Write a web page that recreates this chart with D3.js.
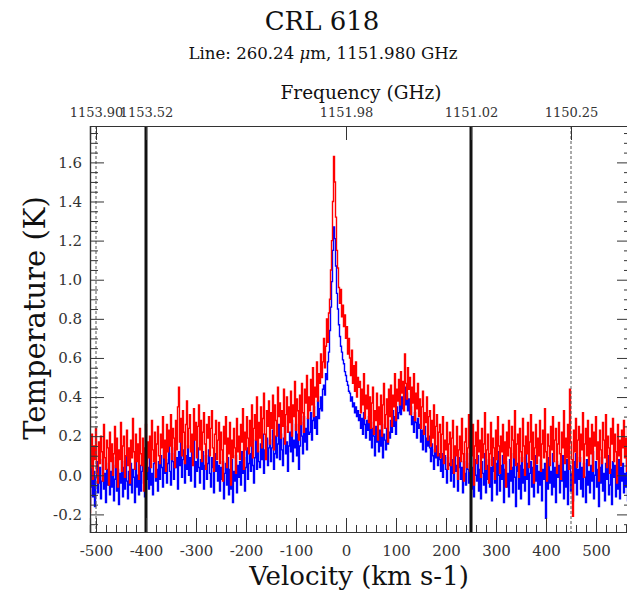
<!DOCTYPE html>
<html>
<head>
<meta charset="utf-8">
<script src="https://cdn.jsdelivr.net/npm/d3@7"></script>
<style>
  html, body { margin: 0; padding: 0; background: #fff; }
  svg { display: block; font-family: "DejaVu Serif", serif; }
</style>
</head>
<body>
<svg id="chart" width="627" height="590"></svg>
<script>
// Spectrum channels: velocity of channel i is velocityStart + i * velocityStep (km/s)
const velocityStart = -512;
const velocityStep = 2;

// Red spectrum, antenna temperature (K); one row = 10 channels = 20 km/s
const redSpectrum = [
  -0.19, 0.04, 0.21, -0.02, 0.15, 0.08, 0.24, 0.01, -0.04, 0.17,
  0.06, 0.20, 0.12, -0.03, 0.26, 0.09, 0.03, 0.18, 0.14, -0.05,
  0.22, 0.07, 0.16, 0.00, 0.11, 0.25, 0.04, 0.19, -0.06, 0.13,
  0.08, 0.27, 0.02, 0.15, 0.20, -0.01, 0.10, 0.23, 0.05, 0.14,
  -0.04, 0.18, 0.09, 0.29, 0.12, 0.03, 0.21, 0.07, 0.16, -0.02,
  0.24, 0.11, 0.05, 0.19, -0.08, 0.14, 0.26, 0.02, 0.17, 0.09,
  0.20, 0.04, 0.28, 0.13, 0.07, 0.22, -0.01, 0.16, 0.25, 0.10,
  0.06, 0.21, 0.14, 0.30, 0.09, 0.18, 0.02, 0.26, 0.12, 0.23,
  0.15, 0.31, 0.08, 0.24, 0.19, 0.04, 0.28, 0.13, 0.35, 0.45,
  0.17, 0.29, 0.10, 0.33, 0.22, 0.06, 0.26, 0.38, 0.14, 0.24,
  0.31, 0.12, 0.21, 0.05, 0.34, 0.18, 0.27, 0.09, 0.25, 0.36,
  0.13, 0.28, 0.07, 0.22, 0.32, 0.16, 0.03, 0.26, 0.19, 0.30,
  0.10, 0.24, 0.33, 0.14, 0.02, 0.21, 0.28, 0.08, 0.18, 0.27,
  0.06, 0.22, 0.13, -0.03, 0.25, 0.16, 0.30, 0.04, 0.19, 0.11,
  0.27, -0.05, 0.18, 0.09, 0.24, 0.14, 0.01, 0.29, 0.12, 0.20,
  0.08, 0.26, 0.17, 0.34, 0.03, 0.22, 0.13, 0.30, 0.19, 0.11,
  0.28, 0.15, 0.36, 0.09, 0.24, 0.31, 0.18, 0.40, 0.12, 0.27,
  0.19, 0.35, 0.14, 0.29, 0.42, 0.21, 0.08, 0.33, 0.25, 0.38,
  0.16, 0.32, 0.24, 0.41, 0.13, 0.36, 0.28, 0.20, 0.45, 0.30,
  0.37, 0.19, 0.33, 0.25, 0.44, 0.16, 0.31, 0.40, 0.22, 0.35,
  0.27, 0.43, 0.20, 0.36, 0.30, 0.48, 0.23, 0.39, 0.33, 0.18,
  0.41, 0.26, 0.47, 0.32, 0.22, 0.44, 0.37, 0.51, 0.29, 0.40,
  0.33, 0.49, 0.36, 0.55, 0.30, 0.45, 0.40, 0.58, 0.38, 0.52,
  0.47, 0.62, 0.50, 0.58, 0.70, 0.55, 0.66, 0.80, 0.68, 0.83,
  0.90, 1.05, 1.20, 1.40, 1.63, 1.50, 1.32, 1.15, 1.06, 0.96,
  0.88, 0.95, 0.81, 0.87, 0.76, 0.82, 0.70, 0.76, 0.62, 0.70,
  0.60, 0.51, 0.64, 0.47, 0.56, 0.43, 0.58, 0.40, 0.50, 0.45,
  0.48, 0.32, 0.44, 0.36, 0.52, 0.29, 0.41, 0.34, 0.46, 0.27,
  0.40, 0.24, 0.37, 0.45, 0.21, 0.33, 0.28, 0.42, 0.18, 0.35,
  0.26, 0.41, 0.20, 0.36, 0.47, 0.24, 0.31, 0.39, 0.17, 0.44,
  0.30, 0.46, 0.25, 0.41, 0.35, 0.52, 0.28, 0.44, 0.38, 0.49,
  0.36, 0.53, 0.42, 0.48, 0.33, 0.62, 0.47, 0.39, 0.55, 0.44,
  0.50, 0.31, 0.45, 0.37, 0.52, 0.28, 0.42, 0.34, 0.47, 0.30,
  0.39, 0.24, 0.35, 0.43, 0.21, 0.32, 0.27, 0.40, 0.18, 0.30,
  0.33, 0.15, 0.28, 0.19, 0.36, 0.12, 0.25, 0.31, 0.10, 0.22,
  0.26, 0.09, 0.21, 0.30, 0.06, 0.18, 0.13, 0.27, 0.03, 0.16,
  0.22, 0.05, 0.19, 0.28, 0.01, 0.15, 0.10, 0.25, -0.02, 0.13,
  0.20, 0.07, 0.29, 0.11, -0.03, 0.17, 0.24, 0.04, 0.14, 0.31,
  0.02, 0.19, 0.10, 0.26, -0.05, 0.15, 0.22, 0.06, 0.28, 0.12,
  0.18, -0.01, 0.24, 0.09, 0.16, 0.32, 0.03, 0.13, 0.21, -0.04,
  0.11, 0.27, 0.05, 0.19, 0.14, -0.02, 0.23, 0.08, 0.30, 0.15,
  0.01, 0.20, 0.12, 0.26, 0.06, 0.17, -0.06, 0.22, 0.10, 0.28,
  0.14, 0.03, 0.25, 0.18, 0.09, 0.33, 0.05, 0.16, 0.21, -0.01,
  0.24, 0.12, 0.07, 0.29, 0.15, 0.00, 0.20, 0.11, 0.27, 0.04,
  0.17, 0.31, 0.08, 0.22, -0.04, 0.14, 0.26, 0.06, 0.19, 0.10,
  0.28, 0.02, 0.16, 0.23, 0.09, 0.34, 0.12, -0.03, 0.21, 0.15,
  0.05, 0.25, 0.13, 0.30, 0.07, 0.18, 0.24, 0.01, 0.16, 0.27,
  0.11, -0.02, 0.22, 0.14, 0.33, 0.06, 0.19, 0.09, 0.26, 0.03,
  0.44, 0.17, 0.08, -0.21, 0.23, 0.12, 0.29, 0.04, 0.18, 0.25,
  0.07, 0.21, 0.13, 0.32, -0.01, 0.16, 0.24, 0.10, 0.28, 0.05,
  0.19, 0.11, 0.26, 0.02, 0.22, 0.15, 0.30, 0.08, 0.17, -0.03,
  0.23, 0.13, 0.06, 0.27, 0.18, 0.09, 0.31, 0.04, 0.20, 0.14,
  0.01, 0.24, 0.16, 0.29, 0.07, 0.21, 0.12, -0.04, 0.26, 0.10,
  0.18, 0.05, 0.23, 0.14, 0.28, 0.09, 0.19, 0.02, 0.25, 0.13,
  0.17
];

// Blue spectrum, antenna temperature (K); same channel grid
const blueSpectrum = [
  -0.15, -0.06, 0.05, -0.11, 0.02, -0.16, -0.01, 0.07, -0.09, -0.04,
  0.04, -0.12, -0.03, 0.08, -0.07, 0.01, -0.14, 0.03, -0.05, 0.06,
  -0.10, 0.02, -0.06, 0.09, -0.13, -0.02, 0.05, -0.08, 0.03, -0.15,
  0.01, -0.04, 0.07, -0.11, 0.04, -0.07, 0.10, -0.03, -0.12, 0.02,
  -0.05, 0.06, -0.09, 0.03, -0.01, -0.14, 0.08, -0.06, 0.00, -0.10,
  0.05, -0.08, 0.02, 0.10, -0.04, -0.11, 0.07, -0.02, 0.04, -0.07,
  0.09, -0.05, 0.01, -0.10, 0.06, 0.12, -0.03, 0.03, -0.08, 0.07,
  -0.02, 0.10, 0.04, -0.06, 0.13, 0.01, 0.08, -0.04, 0.06, 0.15,
  0.02, -0.05, 0.11, 0.07, -0.02, 0.14, 0.04, 0.09, -0.07, 0.12,
  0.05, 0.17, -0.01, 0.08, 0.13, -0.04, 0.10, 0.03, 0.15, 0.00,
  0.09, -0.03, 0.12, 0.06, 0.18, -0.06, 0.07, 0.02, 0.14, 0.04,
  -0.04, 0.08, 0.03, 0.12, -0.07, 0.05, 0.10, -0.02, 0.06, 0.13,
  0.01, -0.06, 0.09, 0.04, -0.09, 0.11, 0.02, 0.07, -0.03, 0.05,
  -0.08, 0.04, -0.02, 0.07, -0.12, 0.01, 0.06, -0.05, 0.09, -0.10,
  0.03, -0.07, 0.08, -0.14, 0.02, -0.03, 0.10, -0.09, 0.05, -0.01,
  0.07, -0.05, 0.12, 0.01, 0.09, -0.08, 0.04, 0.14, -0.02, 0.06,
  0.11, 0.02, 0.15, 0.05, -0.04, 0.09, 0.18, 0.03, 0.12, 0.07,
  0.04, 0.16, 0.08, 0.21, 0.01, 0.13, 0.10, 0.19, 0.05, 0.14,
  0.18, 0.07, 0.14, 0.23, 0.03, 0.11, 0.20, 0.09, 0.16, 0.26,
  0.08, 0.21, 0.13, 0.05, 0.19, 0.25, 0.11, 0.17, 0.02, 0.15,
  0.22, 0.12, 0.28, 0.07, 0.18, 0.14, 0.26, 0.10, 0.21, 0.03,
  0.15, 0.27, 0.20, 0.11, 0.30, 0.17, 0.24, 0.13, 0.29, 0.21,
  0.22, 0.32, 0.18, 0.28, 0.35, 0.24, 0.30, 0.21, 0.38, 0.29,
  0.34, 0.40, 0.33, 0.44, 0.46, 0.41, 0.52, 0.49, 0.58, 0.63,
  0.74, 0.86, 0.99, 1.15, 1.27, 1.21, 1.07, 0.93, 0.85, 0.77,
  0.71, 0.66, 0.63, 0.59, 0.57, 0.53, 0.51, 0.48, 0.46, 0.43,
  0.42, 0.38, 0.40, 0.35, 0.37, 0.32, 0.35, 0.30, 0.33, 0.28,
  0.31, 0.24, 0.29, 0.21, 0.32, 0.26, 0.19, 0.28, 0.23, 0.30,
  0.18, 0.27, 0.14, 0.24, 0.20, 0.10, 0.25, 0.17, 0.22, 0.12,
  0.23, 0.15, 0.26, 0.09, 0.21, 0.18, 0.13, 0.24, 0.16, 0.22,
  0.19, 0.28, 0.22, 0.33, 0.25, 0.30, 0.21, 0.35, 0.29, 0.32,
  0.38, 0.31, 0.40, 0.34, 0.37, 0.45, 0.36, 0.42, 0.33, 0.39,
  0.31, 0.35, 0.26, 0.30, 0.22, 0.32, 0.27, 0.19, 0.29, 0.24,
  0.26, 0.17, 0.23, 0.13, 0.21, 0.25, 0.12, 0.19, 0.15, 0.20,
  0.14, 0.07, 0.16, 0.10, 0.03, 0.13, 0.09, 0.15, 0.05, 0.11,
  0.08, 0.02, 0.11, -0.01, 0.07, 0.10, 0.03, -0.04, 0.09, 0.05,
  0.06, -0.03, 0.08, 0.01, -0.06, 0.10, 0.02, 0.05, -0.08, 0.04,
  0.09, -0.02, 0.04, -0.09, 0.07, 0.01, -0.05, 0.11, 0.03, -0.04,
  0.06, 0.25, -0.07, 0.04, -0.11, 0.08, 0.00, -0.03, 0.10, -0.08,
  0.03, -0.12, 0.07, 0.01, -0.05, 0.11, -0.09, 0.05, -0.02, 0.08,
  -0.06, 0.04, -0.13, 0.09, 0.02, -0.04, 0.06, -0.10, 0.12, 0.00,
  -0.08, 0.05, -0.02, 0.10, -0.14, 0.03, 0.07, -0.06, 0.01, -0.11,
  0.08, -0.03, 0.04, -0.09, 0.11, -0.01, -0.16, 0.06, 0.02, -0.07,
  0.05, -0.12, 0.09, -0.04, 0.03, -0.08, 0.13, -0.02, 0.06, -0.15,
  0.01, 0.07, -0.06, 0.04, -0.11, 0.10, -0.03, 0.05, -0.09, 0.02,
  -0.05, 0.08, -0.13, 0.03, -0.02, 0.06, -0.22, 0.01, -0.07, 0.09,
  -0.04, 0.02, -0.10, 0.11, -0.06, 0.04, -0.14, 0.07, -0.01, 0.05,
  -0.09, 0.06, -0.03, 0.10, -0.12, 0.02, -0.06, 0.08, -0.15, 0.03,
  0.05, -0.08, 0.01, -0.13, 0.07, -0.04, 0.11, -0.10, 0.03, -0.02,
  0.09, -0.07, 0.04, -0.11, 0.06, -0.01, -0.14, 0.08, -0.05, 0.02,
  -0.09, 0.05, -0.03, 0.12, -0.12, 0.00, 0.07, -0.06, 0.03, -0.16,
  0.04, -0.04, 0.09, -0.08, 0.01, -0.13, 0.06, -0.02, 0.10, -0.10,
  -0.05, 0.03, -0.15, 0.07, -0.01, 0.05, -0.11, 0.02, -0.07, 0.08,
  -0.12, 0.04, -0.03, 0.06, -0.09, 0.01, -0.06, 0.09, -0.13, -0.02,
  0.03
];

// Axis ticks
const velocityTicks = [-500, -400, -300, -200, -100, 0, 100, 200, 300, 400, 500];
const temperatureTicks = [-0.2, 0.0, 0.2, 0.4, 0.6, 0.8, 1.0, 1.2, 1.4, 1.6];
// Top axis: frequency labels at the velocities they correspond to
const frequencyTickVelocities = [-500, -400, 0, 250, 450];
const frequencyTickLabels = ["1153.90", "1153.52", "1151.98", "1151.02", "1150.25"];
// Vertical markers (km/s)
const solidMarkers = [-400, 250];
const dashedMarkers = [-500, 450];

const titleText = "CRL 618";
const xLabel = "Velocity (km s-1)";
const yLabel = "Temperature (K)";
const topLabel = "Frequency (GHz)";

const svg = d3.select("#chart");
const plot = { left: 90, right: 631, top: 126, bottom: 532 };

const x = d3.scaleLinear().domain([-512, 570]).range([plot.left, plot.right]);
const y = d3.scaleLinear().domain([-0.29, 1.786]).range([plot.bottom, plot.top]);

const axisColor = "#333";

svg.append("defs").append("clipPath").attr("id", "plot-clip")
  .append("rect")
  .attr("x", plot.left).attr("y", plot.top)
  .attr("width", plot.right - plot.left).attr("height", plot.bottom - plot.top);

// Spectra, drawn as channel steps
const toPoints = arr => arr.map((t, i) => [velocityStart + i * velocityStep, t]);
const line = d3.line().x(d => x(d[0])).y(d => y(d[1])).curve(d3.curveStep);

const spectra = svg.append("g").attr("clip-path", "url(#plot-clip)");
spectra.append("path")
  .attr("d", line(toPoints(blueSpectrum)))
  .attr("fill", "none").attr("stroke", "#0000ff").attr("stroke-width", 1.4);
spectra.append("path")
  .attr("d", line(toPoints(redSpectrum)))
  .attr("fill", "none").attr("stroke", "#ff0000").attr("stroke-width", 1.4);

// Vertical markers
const markers = svg.append("g").attr("clip-path", "url(#plot-clip)");
markers.selectAll("line.solid").data(solidMarkers).join("line")
  .attr("class", "solid")
  .attr("x1", d => x(d)).attr("x2", d => x(d))
  .attr("y1", plot.top).attr("y2", plot.bottom)
  .attr("stroke", "#111").attr("stroke-width", 3);
markers.selectAll("line.dashed").data(dashedMarkers).join("line")
  .attr("class", "dashed")
  .attr("x1", d => x(d)).attr("x2", d => x(d))
  .attr("y1", plot.top).attr("y2", plot.bottom)
  .attr("stroke", "#555").attr("stroke-width", 1).attr("stroke-dasharray", "3,2");

// Minor ticks: every 20 km/s and every 0.05 K
const minorV = d3.range(-26, 29).map(k => k * 20).filter(v => v % 100 !== 0 && v >= -512 && v <= 570);
const minorT = d3.range(-5, 36).filter(k => k % 4 !== 0).map(k => k * 0.05);

function styleAxis(g) {
  g.select(".domain").attr("stroke", axisColor).attr("stroke-width", 1.2);
  g.selectAll(".tick line").attr("stroke", axisColor).attr("stroke-width", 1);
  g.selectAll(".tick text").attr("fill", "#333").attr("font-family", "DejaVu Serif, serif");
}

// Bottom axis
svg.append("g").attr("transform", `translate(0,${plot.bottom})`)
  .call(d3.axisBottom(x).tickValues(minorV).tickSize(-7).tickFormat(""))
  .call(styleAxis);
svg.append("g").attr("transform", `translate(0,${plot.bottom})`)
  .call(d3.axisBottom(x).tickValues(velocityTicks).tickSize(-14).tickPadding(13).tickFormat(d => String(d)))
  .call(styleAxis)
  .call(g => g.selectAll(".tick text").attr("font-size", 15));

// Left axis
svg.append("g").attr("transform", `translate(${plot.left},0)`)
  .call(d3.axisLeft(y).tickValues(minorT).tickSize(-8).tickFormat(""))
  .call(styleAxis);
svg.append("g").attr("transform", `translate(${plot.left},0)`)
  .call(d3.axisLeft(y).tickValues(temperatureTicks).tickSize(-14).tickPadding(8).tickFormat(d => d.toFixed(1)))
  .call(styleAxis)
  .call(g => g.selectAll(".tick text").attr("font-size", 15));

// Right axis (ticks only)
svg.append("g").attr("transform", `translate(${plot.right},0)`)
  .call(d3.axisRight(y).tickValues(minorT).tickSize(-7).tickFormat(""))
  .call(styleAxis);
svg.append("g").attr("transform", `translate(${plot.right},0)`)
  .call(d3.axisRight(y).tickValues(temperatureTicks).tickSize(-14).tickFormat(""))
  .call(styleAxis);

// Top axis: frequency
svg.append("g").attr("transform", `translate(0,${plot.top})`)
  .call(d3.axisTop(x).tickValues(frequencyTickVelocities).tickSize(-14).tickPadding(9)
    .tickFormat((d, i) => frequencyTickLabels[i]))
  .call(styleAxis)
  .call(g => g.selectAll(".tick text").attr("font-size", 13));

// Titles and labels
svg.append("text").attr("x", 322).attr("y", 30).attr("text-anchor", "middle")
  .attr("font-size", 26).attr("fill", "#111").text(titleText);

const sub = svg.append("text").attr("x", 323).attr("y", 59).attr("text-anchor", "middle")
  .attr("font-size", 16.6).attr("fill", "#111");
sub.append("tspan").text("Line: 260.24 ");
sub.append("tspan").attr("font-style", "italic").text("μ");
sub.append("tspan").text("m, 1151.980 GHz");

svg.append("text").attr("x", 361).attr("y", 99).attr("text-anchor", "middle")
  .attr("font-size", 18.5).attr("fill", "#111").text(topLabel);

svg.append("text").attr("x", 359).attr("y", 585).attr("text-anchor", "middle")
  .attr("font-size", 26).attr("fill", "#111").text(xLabel);

svg.append("text").attr("transform", "translate(45,318) rotate(-90)").attr("text-anchor", "middle")
  .attr("font-size", 29).attr("fill", "#111").text(yLabel);
</script>
</body>
</html>
